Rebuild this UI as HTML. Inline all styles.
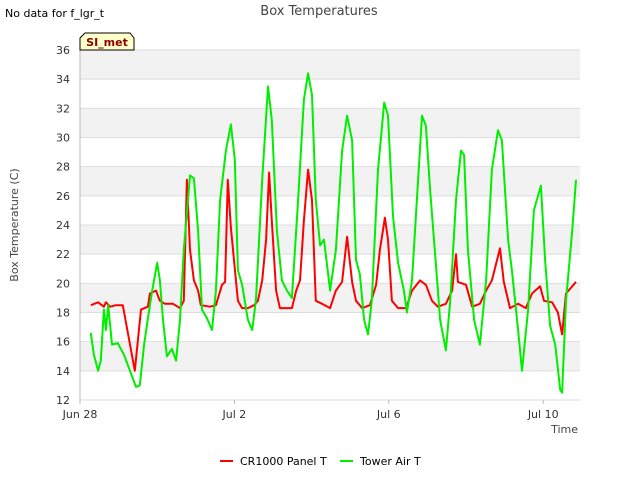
<!DOCTYPE html>
<html><head><meta charset="utf-8"><style>
body{margin:0;background:#fff;font-family:"Liberation Sans",sans-serif}
svg text{font-family:"DejaVu Sans","Liberation Sans",sans-serif}
</style></head><body>
<svg id="c" width="640" height="480" xmlns="http://www.w3.org/2000/svg">
<text x="5" y="17" font-size="11" fill="#000">No data for f_lgr_t</text>
<text x="319" y="15" font-size="13" fill="#444" text-anchor="middle">Box Temperatures</text>
<g id="grid"></g>
<text x="18" y="225" font-size="11" fill="#444" text-anchor="middle" transform="rotate(-90 18 225)">Box Temperature (C)</text>
<text x="578" y="433" font-size="11" fill="#444" text-anchor="end">Time</text>
<g>
<path d="M80,50 L80,38 L85,33 L130,33 L134,38 L134,50 Z" fill="#ffffcc" stroke="#000" stroke-width="1"/>
<text x="107" y="46" font-size="11" font-weight="bold" fill="#8b0000" text-anchor="middle">SI_met</text>
</g>
<g>
<line x1="220" y1="461" x2="233" y2="461" stroke="#ff0000" stroke-width="2"/>
<text x="240" y="465" font-size="11" fill="#000">CR1000 Panel T</text>
<line x1="340" y1="461" x2="353" y2="461" stroke="#00ee00" stroke-width="2"/>
<text x="360" y="465" font-size="11" fill="#000">Tower Air T</text>
</g>
</svg>
<script>
const yTicks=[12,14,16,18,20,22,24,26,28,30,32,34,36];
const xTickDays=[0,4,8,12];
const xTickLabels=["Jun 28","Jul 2","Jul 6","Jul 10"];
const redDays=[0.28,0.47,0.62,0.67,0.78,0.93,1.11,1.42,1.58,1.76,1.81,1.97,2.07,2.2,2.41,2.59,2.69,2.77,2.85,2.95,3.06,3.13,3.37,3.52,3.68,3.76,3.83,3.91,3.99,4.09,4.2,4.35,4.51,4.61,4.72,4.82,4.9,4.97,5.08,5.18,5.49,5.6,5.7,5.8,5.91,6.01,6.11,6.27,6.48,6.63,6.79,6.92,7.05,7.15,7.31,7.51,7.67,7.77,7.9,7.98,8.08,8.24,8.45,8.6,8.81,8.96,9.12,9.27,9.48,9.64,9.74,9.79,10.0,10.16,10.36,10.52,10.67,10.88,10.98,11.14,11.35,11.55,11.71,11.92,12.02,12.23,12.38,12.49,12.59,12.75,12.85];
const redTemps=[18.5,18.7,18.4,18.7,18.4,18.5,18.5,14.0,18.2,18.4,19.3,19.5,18.8,18.6,18.6,18.3,18.8,27.1,22.3,20.2,19.5,18.5,18.4,18.5,19.9,20.1,27.1,23.8,21.6,18.8,18.3,18.3,18.5,18.8,20.2,23.0,27.6,24.3,19.5,18.3,18.3,19.5,20.2,24.3,27.8,25.7,18.8,18.6,18.3,19.5,20.1,23.2,20.1,18.8,18.3,18.5,19.9,22.3,24.5,23.0,18.8,18.3,18.3,19.5,20.2,19.9,18.8,18.4,18.6,19.5,22.0,20.1,19.9,18.4,18.6,19.5,20.2,22.4,20.1,18.3,18.6,18.3,19.3,19.8,18.8,18.7,18.0,16.5,19.3,19.8,20.1];
const greenDays=[0.28,0.36,0.47,0.54,0.62,0.67,0.73,0.83,0.98,1.14,1.45,1.55,1.66,1.76,1.87,2.0,2.07,2.15,2.25,2.38,2.49,2.59,2.69,2.85,2.95,3.06,3.16,3.29,3.42,3.52,3.63,3.78,3.91,4.01,4.09,4.2,4.35,4.46,4.56,4.72,4.87,4.97,5.1,5.23,5.36,5.49,5.65,5.8,5.91,6.01,6.11,6.22,6.32,6.48,6.63,6.79,6.92,7.05,7.15,7.25,7.36,7.46,7.56,7.72,7.88,7.98,8.11,8.24,8.39,8.47,8.6,8.76,8.86,8.96,9.07,9.22,9.33,9.48,9.59,9.74,9.87,9.95,10.05,10.21,10.36,10.52,10.67,10.83,10.93,11.09,11.19,11.35,11.45,11.61,11.76,11.94,12.05,12.18,12.31,12.44,12.49,12.59,12.75,12.85];
const greenTemps=[16.6,15.1,14.0,14.7,18.2,16.8,18.5,15.8,15.9,15.1,12.9,13.0,15.8,17.6,19.5,21.4,20.2,17.5,15.0,15.5,14.7,17.5,22.3,27.4,27.2,23.6,18.2,17.6,16.8,19.5,25.7,29.1,30.9,28.5,20.9,19.9,17.5,16.8,18.9,27.1,33.5,31.2,23.6,20.2,19.5,19.0,25.7,32.6,34.4,32.9,25.7,22.6,23.0,19.5,22.3,29.1,31.5,29.8,21.6,20.6,17.5,16.5,18.8,27.8,32.4,31.5,24.6,21.4,19.5,18.0,20.2,27.1,31.5,30.8,26.4,21.3,17.5,15.4,18.8,25.7,29.1,28.8,22.3,17.5,15.8,20.2,27.8,30.5,29.8,23.0,20.9,16.8,14.0,18.2,25.0,26.7,21.6,17.1,15.8,12.7,12.5,18.8,23.6,27.1];
const L=80,R=580,T=50,B=400;
const xS=d=>L+d*38.6;
const yS=v=>B-(v-12)*(B-T)/24;
const NS="http://www.w3.org/2000/svg";
const g=document.getElementById('grid');
function mk(t,a){const e=document.createElementNS(NS,t);for(const k in a)e.setAttribute(k,a[k]);return e;}
for(let i=0;i<yTicks.length-1;i++){
  if(i%2===1){const r=mk('rect',{x:L,y:yS(yTicks[i+1]),width:R-L,height:yS(yTicks[i])-yS(yTicks[i+1]),fill:'#f2f2f2'});
  
  
  g.appendChild(r);}
}
yTicks.forEach(v=>{
  const l=mk('line',{x1:L,x2:R,y1:yS(v),y2:yS(v),stroke:'#dddddd','stroke-width':1});
  
  
  g.appendChild(l);
  const t=mk('text',{x:L-10,y:yS(v)+4,'font-size':11,fill:'#333','text-anchor':'end'});
  
  
  t.textContent=v;g.appendChild(t);
});
const ax=mk('line',{x1:L,x2:L,y1:T,y2:B,stroke:'#bbb'});


g.appendChild(ax);
xTickDays.forEach((d,i)=>{
  const t=mk('text',{x:xS(d),y:B+18,'font-size':11,fill:'#333','text-anchor':'middle'});
  
  
  t.textContent=xTickLabels[i];g.appendChild(t);
  const k=mk('line',{x1:xS(d),x2:xS(d),y1:B,y2:B+4,stroke:'#bbb'});
  
  
  g.appendChild(k);
});
function line(ds,vs,col,name){
  const p=mk('polyline',{points:ds.map((d,i)=>xS(d).toFixed(1)+','+yS(vs[i]).toFixed(1)).join(' '),fill:'none',stroke:col,'stroke-width':2,'stroke-linejoin':'round'});
  
  
  g.appendChild(p);
}
line(redDays,redTemps,'#ff0000','series-cr1000-panel-t');
line(greenDays,greenTemps,'#00ee00','series-tower-air-t');
</script>
</body></html>
